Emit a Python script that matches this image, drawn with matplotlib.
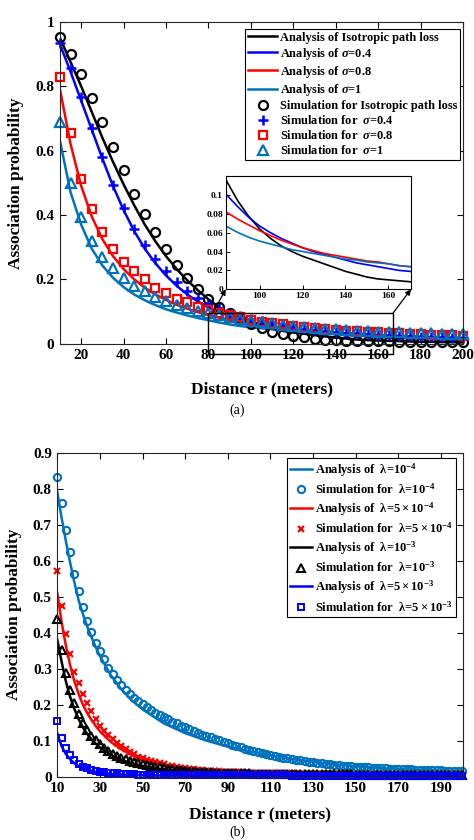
import numpy as np
import matplotlib
matplotlib.use("Agg")
import matplotlib.pyplot as plt
from matplotlib.patches import Rectangle

plt.rcParams["font.family"] = ["Liberation Serif", "DejaVu Serif"]
plt.rcParams["font.weight"] = "bold"
plt.rcParams["mathtext.fontset"] = "custom"
plt.rcParams["mathtext.rm"] = "Liberation Serif:bold"
plt.rcParams["mathtext.it"] = "Liberation Serif:italic:bold"
plt.rcParams["mathtext.bf"] = "Liberation Serif:bold"

CYAN = (0.0, 0.447, 0.741)

# ---------------- (a) data: x = 10..200 step 5 ----------------
r_a = np.arange(10, 201, 5)

ana_iso = [0.95, 0.875, 0.80, 0.72, 0.64, 0.565, 0.495, 0.43, 0.37, 0.318,
           0.272, 0.232, 0.197, 0.166, 0.138, 0.113, 0.093, 0.077, 0.064, 0.054,
           0.046, 0.040, 0.035, 0.031, 0.027, 0.023, 0.019, 0.016, 0.013, 0.011,
           0.010, 0.009, 0.008, 0.007, 0.006, 0.006, 0.005, 0.005, 0.004]
ana_s04 = [0.93, 0.845, 0.755, 0.665, 0.575, 0.49, 0.415, 0.35, 0.295, 0.25,
           0.212, 0.18, 0.153, 0.131, 0.113, 0.099, 0.087, 0.076, 0.067, 0.060,
           0.054, 0.049, 0.044, 0.040, 0.037, 0.034, 0.031, 0.028, 0.026, 0.024,
           0.022, 0.020, 0.019, 0.017, 0.016, 0.015, 0.014, 0.013, 0.012]
ana_s08 = [0.79, 0.62, 0.49, 0.395, 0.325, 0.272, 0.232, 0.200, 0.174, 0.153,
           0.136, 0.121, 0.109, 0.098, 0.089, 0.081, 0.074, 0.068, 0.062, 0.057,
           0.052, 0.048, 0.044, 0.041, 0.038, 0.036, 0.034, 0.032, 0.030, 0.029,
           0.027, 0.025, 0.024, 0.023, 0.022, 0.021, 0.020, 0.019, 0.018]
ana_s1 = [0.63, 0.47, 0.37, 0.295, 0.243, 0.205, 0.176, 0.153, 0.135, 0.120,
          0.107, 0.097, 0.088, 0.080, 0.073, 0.066, 0.060, 0.055, 0.051, 0.048,
          0.045, 0.042, 0.040, 0.038, 0.036, 0.034, 0.032, 0.031, 0.029, 0.028,
          0.027, 0.025, 0.024, 0.023, 0.022, 0.021, 0.020, 0.019, 0.018]

sim_iso = [0.954, 0.900, 0.837, 0.763, 0.688, 0.611, 0.539, 0.466, 0.404, 0.347,
           0.293, 0.244, 0.205, 0.171, 0.140, 0.115, 0.094, 0.076, 0.061, 0.048,
           0.037, 0.030, 0.024, 0.020, 0.016, 0.013, 0.011, 0.010, 0.009, 0.008,
           0.007, 0.007, 0.006, 0.006, 0.005, 0.005, 0.005, 0.004, 0.004]
sim_s04 = [0.936, 0.858, 0.766, 0.672, 0.580, 0.492, 0.421, 0.356, 0.307, 0.262,
           0.226, 0.192, 0.165, 0.141, 0.125, 0.110, 0.097, 0.087, 0.078, 0.070,
           0.063, 0.057, 0.052, 0.047, 0.043, 0.040, 0.037, 0.034, 0.032, 0.030,
           0.028, 0.026, 0.025, 0.023, 0.022, 0.021, 0.020, 0.019, 0.018]
sim_s08 = [0.830, 0.654, 0.511, 0.418, 0.347, 0.295, 0.255, 0.226, 0.200, 0.174,
           0.157, 0.140, 0.129, 0.115, 0.105, 0.094, 0.088, 0.082, 0.075, 0.069,
           0.064, 0.060, 0.056, 0.052, 0.049, 0.046, 0.043, 0.041, 0.039, 0.037,
           0.035, 0.033, 0.032, 0.030, 0.029, 0.028, 0.027, 0.026, 0.025]
sim_s1 = [0.690, 0.499, 0.394, 0.320, 0.270, 0.236, 0.203, 0.179, 0.164, 0.146,
          0.133, 0.120, 0.110, 0.102, 0.094, 0.088, 0.082, 0.077, 0.072, 0.067,
          0.063, 0.059, 0.056, 0.053, 0.050, 0.047, 0.045, 0.043, 0.041, 0.039,
          0.038, 0.036, 0.035, 0.034, 0.033, 0.032, 0.031, 0.030, 0.029]

# ---------------- (b) data ----------------
r_b_line = [10, 12, 14, 16, 18, 20, 22, 24, 26, 28, 30, 35, 40, 45, 50, 60, 70,
            80, 90, 100, 120, 140, 160, 180, 200]
ana_l1e4 = [0.79, 0.72, 0.655, 0.595, 0.54, 0.49, 0.452, 0.418, 0.388, 0.36, 0.335,
            0.283, 0.243, 0.212, 0.187, 0.148, 0.121, 0.100, 0.084, 0.070, 0.049,
            0.034, 0.024, 0.018, 0.014]
ana_l5e4 = [0.51, 0.43, 0.365, 0.31, 0.265, 0.23, 0.20, 0.177, 0.158, 0.141, 0.126,
            0.097, 0.076, 0.060, 0.048, 0.032, 0.022, 0.016, 0.012, 0.010, 0.007,
            0.006, 0.005, 0.004, 0.004]
ana_l1e3 = [0.38, 0.32, 0.265, 0.222, 0.188, 0.160, 0.137, 0.119, 0.104, 0.092,
            0.081, 0.061, 0.047, 0.037, 0.030, 0.020, 0.015, 0.011, 0.009, 0.008,
            0.006, 0.005, 0.005, 0.004, 0.004]
ana_l5e3 = [0.12, 0.085, 0.063, 0.048, 0.037, 0.029, 0.023, 0.019, 0.016, 0.013,
            0.011, 0.008, 0.006, 0.005, 0.004, 0.003, 0.003, 0.003, 0.002, 0.002,
            0.002, 0.002, 0.002, 0.002, 0.002]

r_b = np.arange(10, 201, 2)
sim_l1e4 = [0.832, 0.761, 0.686, 0.623, 0.563, 0.517, 0.472, 0.432, 0.401, 0.372,
            0.349, 0.326, 0.303, 0.285, 0.269, 0.255, 0.241, 0.229, 0.218, 0.209,
            0.201, 0.193, 0.186, 0.178, 0.171, 0.165, 0.159, 0.153, 0.148, 0.142,
            0.137, 0.132, 0.127, 0.122, 0.117, 0.113, 0.109, 0.105, 0.101, 0.097,
            0.093, 0.089, 0.085, 0.082, 0.078, 0.075, 0.072, 0.069, 0.066, 0.063,
            0.061, 0.058, 0.056, 0.053, 0.051, 0.049, 0.047, 0.045, 0.043, 0.041,
            0.040, 0.038, 0.037, 0.035, 0.034, 0.033, 0.032, 0.031, 0.030, 0.029,
            0.028, 0.027, 0.026, 0.026, 0.025, 0.024, 0.024, 0.023, 0.022, 0.022,
            0.021, 0.021, 0.020, 0.020, 0.019, 0.019, 0.019, 0.018, 0.018, 0.018,
            0.018, 0.017, 0.017, 0.017, 0.017, 0.017]
sim_l5e4 = [0.572, 0.474, 0.397, 0.340, 0.292, 0.259, 0.230, 0.206, 0.182, 0.160,
            0.142, 0.128, 0.116, 0.104, 0.094, 0.085, 0.077, 0.069, 0.062, 0.056,
            0.051, 0.047, 0.043, 0.040, 0.037, 0.034, 0.031, 0.029, 0.027, 0.025,
            0.023, 0.022, 0.021, 0.019, 0.018, 0.017, 0.016, 0.015, 0.015, 0.014,
            0.013, 0.013, 0.012, 0.012, 0.011, 0.011, 0.011, 0.010, 0.010, 0.010,
            0.010, 0.009, 0.009, 0.009, 0.009, 0.009, 0.008, 0.008, 0.008, 0.008,
            0.008, 0.008, 0.007, 0.007, 0.007, 0.007, 0.007, 0.007, 0.007, 0.006,
            0.006, 0.006, 0.006, 0.006, 0.006, 0.006, 0.006, 0.006, 0.005, 0.005,
            0.005, 0.005, 0.005, 0.005, 0.005, 0.005, 0.005, 0.005, 0.005, 0.005,
            0.005, 0.005, 0.005, 0.005, 0.005, 0.005]
sim_l1e3 = [0.438, 0.352, 0.287, 0.241, 0.206, 0.173, 0.149, 0.130, 0.114, 0.101,
            0.090, 0.080, 0.071, 0.064, 0.058, 0.053, 0.048, 0.044, 0.041, 0.038,
            0.035, 0.032, 0.030, 0.028, 0.026, 0.024, 0.022, 0.020, 0.019, 0.018,
            0.017, 0.016, 0.015, 0.014, 0.013, 0.012, 0.012, 0.011, 0.011, 0.010,
            0.010, 0.009, 0.009, 0.009, 0.009, 0.009, 0.008, 0.008, 0.008, 0.008,
            0.008, 0.008, 0.008, 0.008, 0.008, 0.008, 0.007, 0.007, 0.007, 0.007,
            0.007, 0.007, 0.007, 0.007, 0.007, 0.007, 0.007, 0.007, 0.007, 0.007,
            0.006, 0.006, 0.006, 0.006, 0.006, 0.006, 0.006, 0.006, 0.006, 0.006,
            0.006, 0.006, 0.006, 0.006, 0.006, 0.006, 0.006, 0.006, 0.006, 0.006,
            0.006, 0.006, 0.006, 0.006, 0.006, 0.006]
sim_l5e3 = [0.155, 0.107, 0.079, 0.060, 0.046, 0.036, 0.028, 0.023, 0.019, 0.016,
            0.014, 0.012, 0.011, 0.010, 0.009, 0.008, 0.008, 0.007, 0.007, 0.006,
            0.006, 0.006, 0.006, 0.006, 0.006, 0.006, 0.005, 0.005, 0.005, 0.005,
            0.005, 0.005, 0.005, 0.005, 0.005, 0.005, 0.004, 0.004, 0.004, 0.004,
            0.004, 0.004, 0.004, 0.004, 0.004, 0.004, 0.004, 0.004, 0.004, 0.004,
            0.004, 0.004, 0.004, 0.004, 0.004, 0.003, 0.003, 0.003, 0.003, 0.003,
            0.003, 0.003, 0.003, 0.003, 0.003, 0.003, 0.003, 0.003, 0.003, 0.003,
            0.003, 0.003, 0.003, 0.003, 0.003, 0.003, 0.003, 0.003, 0.003, 0.003,
            0.003, 0.003, 0.003, 0.003, 0.003, 0.003, 0.003, 0.003, 0.003, 0.003,
            0.003, 0.003, 0.003, 0.003, 0.003, 0.003]

fig = plt.figure(figsize=(4.74, 8.4), dpi=100)


def style_axes(ax, size=11):
    ax.tick_params(direction="in", top=True, right=True, labelsize=size,
                   length=4, width=0.8, pad=4)
    for s in ax.spines.values():
        s.set_linewidth(0.8)
        s.set_color("#262626")
    for lab in ax.get_xticklabels() + ax.get_yticklabels():
        lab.set_fontweight("bold")


# ---------------- (a) ----------------
ax1 = fig.add_axes([0.1266, 0.5908, 0.8502, 0.3830])
ax1.plot(r_a, ana_iso, color="black", lw=1.8, label="Analysis of Isotropic path loss")
ax1.plot(r_a, ana_s04, color="blue", lw=1.8, label="Analysis of $\\sigma$=0.4")
ax1.plot(r_a, ana_s08, color="red", lw=1.8, label="Analysis of $\\sigma$=0.8")
ax1.plot(r_a, ana_s1, color=CYAN, lw=1.8, label="Analysis of $\\sigma$=1")
ax1.plot(r_a, sim_iso, "o", mfc="none", mec="black", ms=6.5, mew=1.6, clip_on=False,
         label="Simulation for Isotropic path loss")
ax1.plot(r_a, sim_s04, "+", color="blue", ms=7, mew=1.8, clip_on=False,
         label="Simulation for  $\\sigma$=0.4")
ax1.plot(r_a, sim_s08, "s", mfc="none", mec="red", ms=5.5, mew=1.6, clip_on=False,
         label="Simulation for  $\\sigma$=0.8")
ax1.plot(r_a, sim_s1, "^", mfc="none", mec=CYAN, ms=6.5, mew=1.6, clip_on=False,
         label="Simulation for  $\\sigma$=1")
ax1.set_xlim(10, 200)
ax1.set_ylim(0, 1)
ax1.set_xticks(np.arange(20, 201, 20))
ax1.set_yticks([0, 0.2, 0.4, 0.6, 0.8, 1])
ax1.set_yticklabels(["0", "0.2", "0.4", "0.6", "0.8", "1"])
style_axes(ax1)
ax1.set_xlabel("Distance r (meters)", fontsize=12.5, fontweight="bold", labelpad=14)
ax1.set_ylabel("Association probability", fontsize=12.5, fontweight="bold", labelpad=8)
leg1 = ax1.legend(loc="upper right", bbox_to_anchor=(0.992, 0.978), fontsize=8.9,
                  frameon=True, fancybox=False, edgecolor="black", framealpha=1,
                  handlelength=2.4, handletextpad=0.2, labelspacing=0.17,
                  borderpad=0.2, borderaxespad=0.0)
leg1.get_frame().set_linewidth(0.8)

# zoom rectangle
ax1.add_patch(Rectangle((80, -0.033), 87, 0.128, fill=False, ec="black", lw=1.0,
                        clip_on=False, zorder=5))

# inset
axin = fig.add_axes([0.4762, 0.6556, 0.3908, 0.1349])
axin.plot(r_a, ana_iso, color="black", lw=1.2)
axin.plot(r_a, ana_s04, color="blue", lw=1.2)
axin.plot(r_a, ana_s08, color="red", lw=1.2)
axin.plot(r_a, ana_s1, color=CYAN, lw=1.2)
axin.set_xlim(84.2, 170.5)
axin.set_ylim(0, 0.12)
axin.set_xticks([100, 120, 140, 160])
axin.set_yticks([0, 0.02, 0.04, 0.06, 0.08, 0.1])
axin.set_yticklabels(["0", "0.02", "0.04", "0.06", "0.08", "0.1"])
axin.tick_params(direction="in", labelsize=6.8, length=3, width=0.7, pad=2)
for lab in axin.get_xticklabels() + axin.get_yticklabels():
    lab.set_fontweight("bold")
for s in axin.spines.values():
    s.set_linewidth(0.8)

arrow = dict(arrowstyle="-|>", color="black", lw=0.9, mutation_scale=8,
             shrinkA=0, shrinkB=0)
ax1.annotate("", xy=(0, 0), xycoords=axin.transAxes, xytext=(82, 0.095),
             textcoords="data", arrowprops=arrow)
ax1.annotate("", xy=(1, 0), xycoords=axin.transAxes, xytext=(167, 0.095),
             textcoords="data", arrowprops=arrow)

fig.text(0.5, 1 - 410 / 840, "(a)", ha="center", va="center", fontsize=10,
         fontweight="normal")

# ---------------- (b) ----------------
ax2 = fig.add_axes([0.1209, 0.0754, 0.8565, 0.3857])
ax2.plot(r_b_line, ana_l1e4, color=CYAN, lw=1.8, label="Analysis of  λ=$10^{-4}$")
ax2.plot(r_b, sim_l1e4, "o", mfc="none", mec=CYAN, ms=5.2, mew=1.5, clip_on=False,
         label="Simulation for  λ=$10^{-4}$")
ax2.plot(r_b_line, ana_l5e4, color="red", lw=1.8,
         label="Analysis of  λ=$5\\times10^{-4}$")
ax2.plot(r_b, sim_l5e4, "x", color="red", ms=4, mew=1.6, clip_on=False,
         label="Simulation for  λ=$5\\times10^{-4}$")
ax2.plot(r_b_line, ana_l1e3, color="black", lw=1.8, label="Analysis of  λ=$10^{-3}$")
ax2.plot(r_b, sim_l1e3, "^", mfc="none", mec="black", ms=5.2, mew=1.5, clip_on=False,
         label="Simulation for  λ=$10^{-3}$")
ax2.plot(r_b_line, ana_l5e3, color="blue", lw=1.8,
         label="Analysis of  λ=$5\\times10^{-3}$")
ax2.plot(r_b, sim_l5e3, "s", mfc="none", mec="blue", ms=4.3, mew=1.4, clip_on=False,
         label="Simulation for  λ=$5\\times10^{-3}$")
ax2.set_xlim(10, 200.5)
ax2.set_ylim(0, 0.9)
ax2.set_xticks(np.arange(10, 191, 20))
ax2.set_yticks(np.arange(0, 0.91, 0.1))
ax2.set_yticklabels(["0", "0.1", "0.2", "0.3", "0.4", "0.5", "0.6", "0.7", "0.8", "0.9"])
style_axes(ax2)
ax2.set_xlabel("Distance r (meters)", fontsize=12.5, fontweight="bold", labelpad=8)
ax2.set_ylabel("Association probability", fontsize=12.5, fontweight="bold", labelpad=8)
leg2 = ax2.legend(loc="upper right", bbox_to_anchor=(0.982, 0.984), fontsize=9,
                  frameon=True, fancybox=False, edgecolor="black", framealpha=1,
                  handlelength=1.75, handletextpad=0.2, labelspacing=0.28,
                  borderpad=0.25, borderaxespad=0.0)
leg2.get_frame().set_linewidth(0.8)

fig.text(0.5, 1 - 832 / 840, "(b)", ha="center", va="center", fontsize=10,
         fontweight="normal")

fig.savefig("out.png", dpi=100)
